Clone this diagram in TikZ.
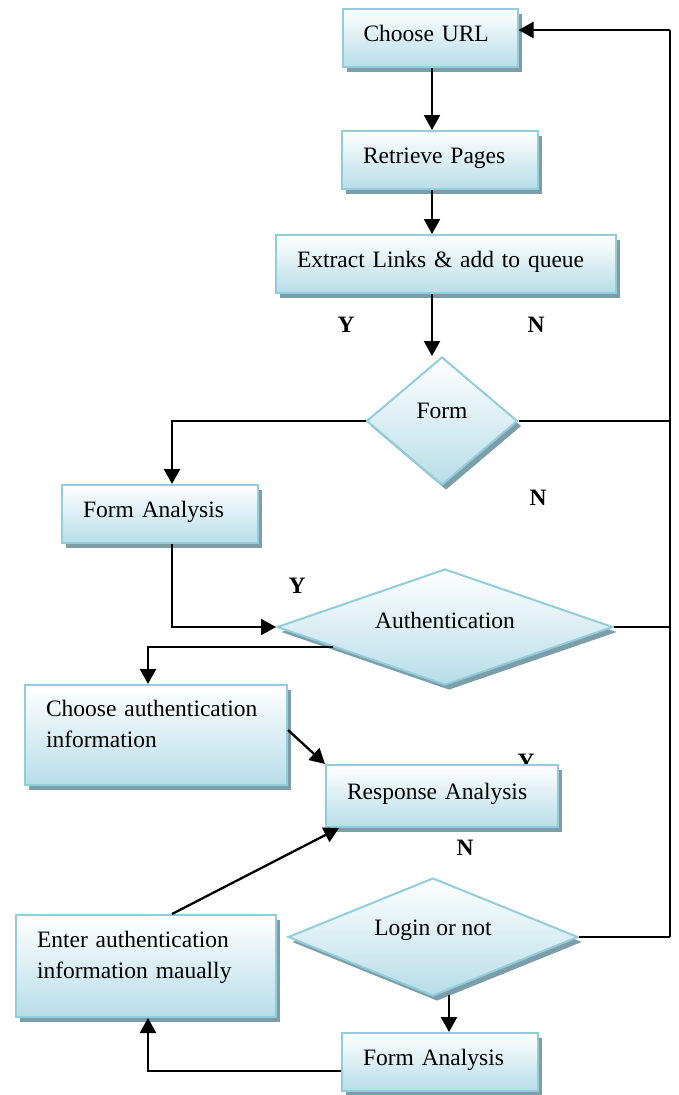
\documentclass[tikz,border=0pt]{standalone}
\usepackage{fontspec}
\setmainfont{Liberation Serif}
\usetikzlibrary{shapes.geometric,shadows,arrows.meta,calc}
\definecolor{bord}{RGB}{146,205,220}
\definecolor{fillb}{RGB}{183,221,232}
\definecolor{shad}{RGB}{125,158,168}
\begin{document}
\begin{tikzpicture}[x=1pt,y=-1pt,
  base/.style={draw=bord, line width=2pt, top color=white, bottom color=fillb,
    drop shadow={shadow xshift=4pt, shadow yshift=-5pt, fill=shad, opacity=1},
    font=\fontsize{23.5}{31}\selectfont, inner sep=0pt, text height=17pt},
  box/.style={base, rectangle, align=left, inner xsep=21pt},
  dia/.style={base, diamond, align=center},
  arr/.style={line width=2.3pt, -{Triangle[length=15pt,width=16pt]}},
  ln/.style={line width=2.3pt},
  yn/.style={font=\fontsize{23.5}{28}\selectfont\bfseries, inner sep=0pt}]
\useasboundingbox[fill=white] (0,0) rectangle (678,1095);

% label partly hidden behind Response Analysis
\node[yn] (y3) at (526,762) {Y};

% boxes
\node[box, minimum width=175pt, minimum height=58pt, text width=133pt, text depth=11pt] (url) at (430,38) {Choose URL};
\node[box, minimum width=196pt, minimum height=58pt, text width=154pt, text depth=11pt] (ret) at (440,160) {Retrieve Pages};
\node[box, minimum width=340pt, minimum height=58pt, text width=298pt, text depth=11pt] (ex) at (446,264) {Extract Links \& add to queue};
\node[box, minimum width=196pt, minimum height=58pt, text width=154pt, text depth=11pt] (fa1) at (160,514) {Form Analysis};
\node[box, minimum width=262pt, minimum height=100pt, text width=220pt, text depth=55pt] (ca) at (156,735) {Choose authentication\\information};
\node[box, minimum width=232pt, minimum height=62pt, text width=190pt, text depth=11pt] (resp) at (442,796) {Response Analysis};
\node[box, minimum width=260pt, minimum height=102pt, text width=218pt, text depth=55pt] (ea) at (146,966) {Enter authentication\\information maually};
\node[box, minimum width=196pt, minimum height=58pt, text width=154pt, text depth=11pt] (fa2) at (440,1062) {Form Analysis};

% diamonds
\node[dia, minimum width=151pt, minimum height=128pt, aspect=1.18, text depth=23pt] (form) at (442,421) {Form};
\node[dia, minimum width=336pt, minimum height=116pt, aspect=2.9, text depth=15pt] (auth) at (445,627) {Authentication};
\node[dia, minimum width=290pt, minimum height=118pt, aspect=2.46, text depth=21pt] (login) at (433,937) {Login or not};

% labels
\node[yn] (y1) at (346,325) {Y};
\node[yn] (n1) at (536,325) {N};
\node[yn] (n2) at (538,498) {N};
\node[yn] (y2) at (297,586) {Y};
\node[yn] (n3) at (465,848) {N};

% right return line
\coordinate (rtop) at (670,30);
\coordinate (rbot) at (670,937);
\draw[ln] (rtop) -- (rbot);
\draw[arr] (rtop) -- (rtop -| url.east);

% main flow
\coordinate (fx) at (432,0);
\draw[arr] (fx |- url.south) -- (fx |- ret.north);
\draw[arr] (fx |- ret.south) -- (fx |- ex.north);
\draw[arr] (fx |- ex.south) -- (fx |- form.north);
\draw[ln] (form.east) -- (form.east -| rtop);
\coordinate (fa1top) at ($(fa1.north)+(12,0)$);
\draw[arr] (form.west) -| (fa1top);
\coordinate (fa1bot) at ($(fa1.south)+(12,0)$);
\draw[arr] (fa1bot) |- (auth.west);
\draw[ln] (auth.east) -- (auth.east -| rtop);
\coordinate (authl) at ($(auth.west)!0.34!(auth.south)$);
\coordinate (catop) at ($(ca.north)+(-8,0)$);
\draw[arr] (authl) -| (catop);
\coordinate (car) at ($(ca.east)+(0,-5)$);
\draw[arr] (car) -- (resp.north west);
\coordinate (eatop) at ($(ea.north)+(26,0)$);
\coordinate (respbl) at ($(resp.south west)+(14,0)$);
\draw[arr] (eatop) -- (respbl);
\draw[ln] (login.east) -- (login.east -| rbot);
\coordinate (lb) at (449,995);
\draw[arr] (lb) -- (lb |- fa2.north);
\coordinate (fa2l) at ($(fa2.west)+(0,9)$);
\coordinate (eabot) at ($(ea.south)+(2,0)$);
\draw[arr] (fa2l) -| (eabot);
\end{tikzpicture}
\end{document}
